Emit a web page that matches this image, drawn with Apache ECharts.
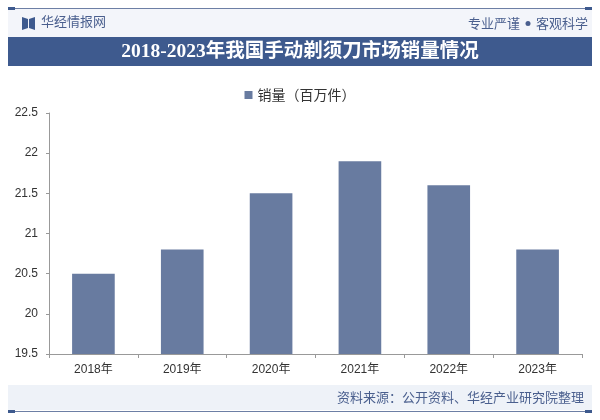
<!DOCTYPE html>
<html><head><meta charset="utf-8">
<script src="https://cdn.jsdelivr.net/npm/echarts@6/dist/echarts.min.js"></script>
<style>html,body{margin:0;padding:0;background:#fff}#c{width:600px;height:420px}</style>
</head><body><div id="c"></div>
<script>
const categories = ['2018年','2019年','2020年','2021年','2022年','2023年'];
const salesValues = [20.5, 20.8, 21.5, 21.9, 21.6, 20.8];
const seriesName = '销量（百万件）';
const titleText = '2018-2023年我国手动剃须刀市场销量情况';
const sourceText = '资料来源：公开资料、华经产业研究院整理';

const chart = echarts.init(document.getElementById('c'), null, {renderer:'canvas'});
const sans = 'Liberation Sans, Arial, Noto Sans CJK SC, sans-serif';
const dark = '#3e5a8e';
chart.setOption({
  animation:false,
  backgroundColor:'#fff',
  graphic:[
    {type:'rect', shape:{x:8,y:9,width:584,height:28}, style:{fill:'#f3f5fa'}, z:-1},
    {type:'rect', shape:{x:8,y:8,width:584,height:1}, style:{fill:'#6d7fa5'}},
    {type:'rect', shape:{x:8,y:7,width:7,height:3}, style:{fill:dark}},
    {type:'rect', shape:{x:585,y:7,width:7,height:3}, style:{fill:dark}},
    {type:'polygon', shape:{points:[[22,17],[28,19],[28,28],[22,30]]}, style:{fill:dark}},
    {type:'polygon', shape:{points:[[29,19],[35,17],[35,30],[29,28]]}, style:{fill:dark}},
    {type:'text', left:41, top:15, style:{text:'华经情报网', fill:'#4a5f8e', font:'13px Noto Sans CJK SC'}},
    {type:'text', x:588, y:23, style:{text:'客观科学', fill:'#4a5f8e', font:'13px Noto Sans CJK SC', textAlign:'right', textVerticalAlign:'middle'}},
    {type:'circle', shape:{cx:528, cy:23.5, r:2.5}, style:{fill:'#4a5f8e'}},
    {type:'text', x:520, y:23, style:{text:'专业严谨', fill:'#4a5f8e', font:'13px Noto Sans CJK SC', textAlign:'right', textVerticalAlign:'middle'}},
    {type:'rect', shape:{x:8,y:37,width:584,height:29}, style:{fill:dark}},
    {type:'text', x:300, y:51.5, style:{text:titleText, fill:'#fff', font:'bold 19.5px Liberation Serif, Noto Sans CJK SC', textAlign:'center', textVerticalAlign:'middle'}},
    {type:'rect', shape:{x:8,y:385,width:584,height:25}, style:{fill:'#eef2f8'}, z:-1},
    {type:'text', x:584, y:397.5, style:{text:sourceText, fill:'#4a5f8e', font:'13px Noto Sans CJK SC', textAlign:'right', textVerticalAlign:'middle'}},
    {type:'rect', shape:{x:8,y:411,width:584,height:1}, style:{fill:'#6d7fa5'}},
    {type:'rect', shape:{x:8,y:410,width:7,height:3}, style:{fill:dark}},
    {type:'rect', shape:{x:585,y:410,width:7,height:3}, style:{fill:dark}}
  ],
  legend:{
    top:83, left:'center', itemWidth:8, itemHeight:8, icon:'rect', itemGap:10,
    textStyle:{fontSize:14, color:'#333', fontFamily:'Noto Sans CJK SC'},
    data:[seriesName]
  },
  grid:{left:49, right:18, top:113, bottom:66, containLabel:false},
  xAxis:{
    type:'category', data:categories, boundaryGap:true,
    axisLine:{lineStyle:{color:'#999'}},
    axisTick:{show:true, length:4, lineStyle:{color:'#999'}},
    axisLabel:{color:'#333', fontSize:12, fontFamily:sans, margin:10}
  },
  yAxis:{
    type:'value', min:19.5, max:22.5, interval:0.5,
    axisLine:{show:true, lineStyle:{color:'#999'}},
    axisTick:{show:true, length:3, lineStyle:{color:'#999'}},
    splitLine:{show:false},
    axisLabel:{color:'#333', fontSize:12, fontFamily:sans, margin:11}
  },
  series:[{
    name:seriesName, type:'bar', data:salesValues, barWidth:'48%',
    itemStyle:{color:'#687ba0'}
  }]
});
</script></body></html>
